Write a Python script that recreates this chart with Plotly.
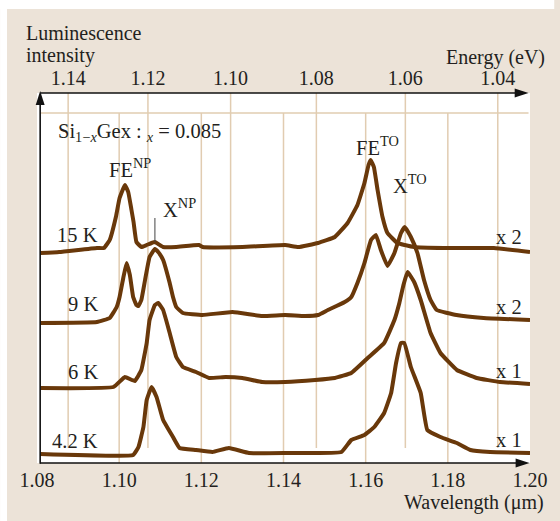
import plotly.graph_objects as go

# ---------------- data ----------------
wl_15K = [1.0808, 1.0854, 1.0946, 1.0963, 1.0977, 1.0992, 1.1001, 1.1014, 1.1022, 1.1030,
          1.1035, 1.1042, 1.1054, 1.1067, 1.1079, 1.1087, 1.1095, 1.1107, 1.1139, 1.1194,
          1.1203, 1.1300, 1.1404, 1.1436, 1.1484, 1.1525, 1.1556, 1.1580, 1.1597, 1.1607,
          1.1612, 1.1620, 1.1629, 1.1641, 1.1653, 1.1677, 1.1695, 1.1718, 1.1790, 1.1912,
          1.2000]
int_15K = [214, 215, 219, 219, 227, 250, 269, 282, 275, 257,
           245, 225, 220, 222, 224, 225, 223, 220, 220, 222,
           220, 220, 222, 220, 224, 230, 244, 262, 284, 302,
           307, 300, 277, 250, 234, 224, 222, 220, 219, 219,
           215]

wl_9K = [1.0808, 1.0946, 1.0977, 1.0994, 1.1001, 1.1010, 1.1018, 1.1026, 1.1034, 1.1042,
         1.1047, 1.1054, 1.1063, 1.1074, 1.1087, 1.1095, 1.1107, 1.1123, 1.1131, 1.1139,
         1.1155, 1.1203, 1.1276, 1.1348, 1.1404, 1.1452, 1.1484, 1.1508, 1.1549, 1.1565,
         1.1580, 1.1597, 1.1613, 1.1625, 1.1637, 1.1653, 1.1670, 1.1686, 1.1695, 1.1710,
         1.1726, 1.1742, 1.1758, 1.1773, 1.1821, 1.1887, 1.2000]
int_9K = [144, 145, 149, 160, 170, 189, 204, 192, 170, 162,
          161, 167, 187, 210, 218, 215, 207, 184, 170, 160,
          154, 152, 155, 151, 152, 151, 152, 157, 165, 170,
          184, 204, 227, 232, 217, 201, 214, 234, 240, 230,
          214, 187, 167, 157, 152, 149, 147]

wl_6K = [1.0808, 1.0986, 1.1014, 1.1038, 1.1054, 1.1067, 1.1074, 1.1087, 1.1095, 1.1107,
         1.1123, 1.1139, 1.1155, 1.1187, 1.1219, 1.1259, 1.1300, 1.1348, 1.1404, 1.1477,
         1.1525, 1.1565, 1.1605, 1.1645, 1.1670, 1.1682, 1.1692, 1.1702, 1.1718, 1.1734,
         1.1758, 1.1782, 1.1822, 1.1870, 1.1927, 1.2000]
int_6K = [79, 80, 90, 86, 97, 124, 147, 162, 164, 157,
          134, 110, 100, 95, 89, 90, 89, 85, 85, 87,
          89, 94, 109, 124, 147, 164, 182, 195, 185, 167,
          134, 114, 97, 89, 85, 83]

wl_4K = [1.0808, 1.1034, 1.1047, 1.1059, 1.1067, 1.1079, 1.1091, 1.1107, 1.1131, 1.1147,
         1.1187, 1.1227, 1.1267, 1.1316, 1.1404, 1.1541, 1.1565, 1.1597, 1.1621, 1.1645,
         1.1662, 1.1674, 1.1686, 1.1694, 1.1710, 1.1734, 1.1750, 1.1782, 1.1822, 1.1855,
         1.1903, 1.2000]
int_4K = [13, 12, 20, 40, 67, 80, 70, 47, 30, 19,
          17, 15, 19, 14, 14, 15, 27, 32, 40, 54,
          74, 104, 124, 124, 100, 74, 37, 30, 24, 17,
          15, 14]

temp_labels = ["15 K", "9 K", "6 K", "4.2 K"]
scale_labels = ["x 2", "x 2", "x 1", "x 1"]
wl_ticks = [1.08, 1.10, 1.12, 1.14, 1.16, 1.18, 1.20]
energy_ticks = [1.14, 1.12, 1.10, 1.08, 1.06, 1.04]
X_NP_wl = 1.1087
HC = 1.23984  # eV*um

# ---------------- layout geometry (pixels) ----------------
W, H = 560, 521
L, R, T, B = 37.3, 535.5, 93, 463
TEXT = "#231f20"
BROWN = "rgb(105,56,10)"
GRID = "#e1ccb1"
BEIGE = "#ece3d8"
AXIS = "#111111"
FONT = "Liberation Serif"
FS = 20


def xp(px):
    return (px - L) / (R - L)


def yp(py):
    return (B - py) / (B - T)


def tri(pts):
    return "M " + " L ".join(f"{xp(a):.5f},{yp(b):.5f}" for a, b in pts) + " Z"


fig = go.Figure()
for wl, it in [(wl_15K, int_15K), (wl_9K, int_9K), (wl_6K, int_6K), (wl_4K, int_4K)]:
    fig.add_trace(go.Scatter(x=wl, y=it, mode="lines",
                             line=dict(color=BROWN, width=4, shape="spline", smoothing=0.3),
                             showlegend=False, hoverinfo="skip"))
# empty trace to carry the top (energy) axis
fig.add_trace(go.Scatter(x=[], y=[], xaxis="x2", showlegend=False, hoverinfo="skip"))

energy_pos = [HC / e for e in energy_ticks]

shapes = []
# outer white margins (panel starts at x=7, y=9)
shapes.append(dict(type="rect", xref="paper", yref="paper", x0=xp(0), x1=xp(7), y0=yp(H), y1=yp(0),
                   fillcolor="white", line=dict(width=0), layer="above"))
shapes.append(dict(type="rect", xref="paper", yref="paper", x0=xp(0), x1=xp(W), y0=yp(9), y1=yp(0),
                   fillcolor="white", line=dict(width=0), layer="above"))
# grid lines
for w in wl_ticks[1:-1]:
    shapes.append(dict(type="line", xref="x", yref="paper", x0=w, x1=w, y0=0, y1=yp(113),
                       line=dict(color=GRID, width=1.5), layer="between"))
for e in energy_pos:
    shapes.append(dict(type="line", xref="x", yref="paper", x0=e, x1=e, y0=yp(448), y1=1,
                       line=dict(color=GRID, width=1.5), layer="between"))
shapes.append(dict(type="line", xref="paper", yref="paper", x0=xp(40.5), x1=xp(534), y0=yp(113), y1=yp(113),
                   line=dict(color=GRID, width=1.5), layer="between"))
# X^NP marker tick
shapes.append(dict(type="line", xref="x", yref="paper", x0=X_NP_wl, x1=X_NP_wl, y0=yp(242), y1=yp(218),
                   line=dict(color="#444444", width=1)))

# axis lines with arrow heads
shapes.append(dict(type="line", xref="paper", yref="paper", x0=xp(40.5), x1=xp(522), y0=yp(93), y1=yp(93),
                   line=dict(color=AXIS, width=1.6), layer="above"))
shapes.append(dict(type="path", xref="paper", yref="paper", path=tri([(534, 93), (520, 88.5), (520, 97.5)]),
                   fillcolor=AXIS, line=dict(width=0), layer="above"))
shapes.append(dict(type="line", xref="paper", yref="paper", x0=xp(40.5), x1=xp(523), y0=yp(463), y1=yp(463),
                   line=dict(color=AXIS, width=1.6), layer="above"))
shapes.append(dict(type="path", xref="paper", yref="paper", path=tri([(535, 463), (521, 458.5), (521, 467.5)]),
                   fillcolor=AXIS, line=dict(width=0), layer="above"))
shapes.append(dict(type="line", xref="paper", yref="paper", x0=xp(40.5), x1=xp(40.5), y0=yp(463.8), y1=yp(103),
                   line=dict(color=AXIS, width=1.6), layer="above"))
shapes.append(dict(type="path", xref="paper", yref="paper", path=tri([(40.5, 91), (36, 105), (45, 105)]),
                   fillcolor=AXIS, line=dict(width=0), layer="above"))

ann = []


def txt(s, px, py, xa="left", size=FS):
    ann.append(dict(text=s, x=xp(px), y=yp(py), xref="paper", yref="paper", xanchor=xa,
                    yanchor="middle", showarrow=False, font=dict(family=FONT, size=size, color=TEXT)))


txt("Luminescence", 24, 33)
txt("intensity", 24, 56)
txt("Energy (eV)", 553, 57, "right")
txt("Wavelength (μm)", 552, 502, "right")
txt("Si<sub>1−<i>x</i></sub>Gex : <sub><i>x</i></sub> = 0.085", 57, 132, size=20.5)
txt("FE<sup>NP</sup>", 108, 168, size=20.5)
txt("X<sup>NP</sup>", 163, 208, size=20.5)
txt("FE<sup>TO</sup>", 358, 146, size=20.5)
txt("X<sup>TO</sup>", 395, 184, size=20.5)
for lab, py in zip(temp_labels, [235, 304, 372, 441]):
    txt(lab, 101, py, "right", size=20.5)
for lab, py in zip(scale_labels, [237, 307, 371, 440]):
    txt(lab, 499, py, "left", size=20.5)

fig.update_layout(
    width=W, height=H,
    margin=dict(l=L, r=W - R, t=T, b=H - B, pad=0),
    paper_bgcolor=BEIGE, plot_bgcolor="white",
    font=dict(family=FONT, size=FS, color=TEXT),
    xaxis=dict(range=[1.08, 1.20], tickvals=wl_ticks, ticktext=[f"{v:.2f}" for v in wl_ticks],
               showgrid=False, zeroline=False, showline=False, ticks="", ticklabelstandoff=3,
               tickfont=dict(family=FONT, size=FS, color=TEXT)),
    xaxis2=dict(range=[1.08, 1.20], overlaying="x", side="top", anchor="y", matches="x",
                tickvals=energy_pos, ticktext=[f"{e:.2f}" for e in energy_ticks],
                showgrid=False, zeroline=False, showline=False, ticks="", ticklabelstandoff=3,
                tickfont=dict(family=FONT, size=FS, color=TEXT)),
    yaxis=dict(range=[4, 374], showticklabels=False, showgrid=False, zeroline=False, showline=False,
               ticks=""),
    shapes=shapes, annotations=ann,
)

fig.write_html("out.html")
